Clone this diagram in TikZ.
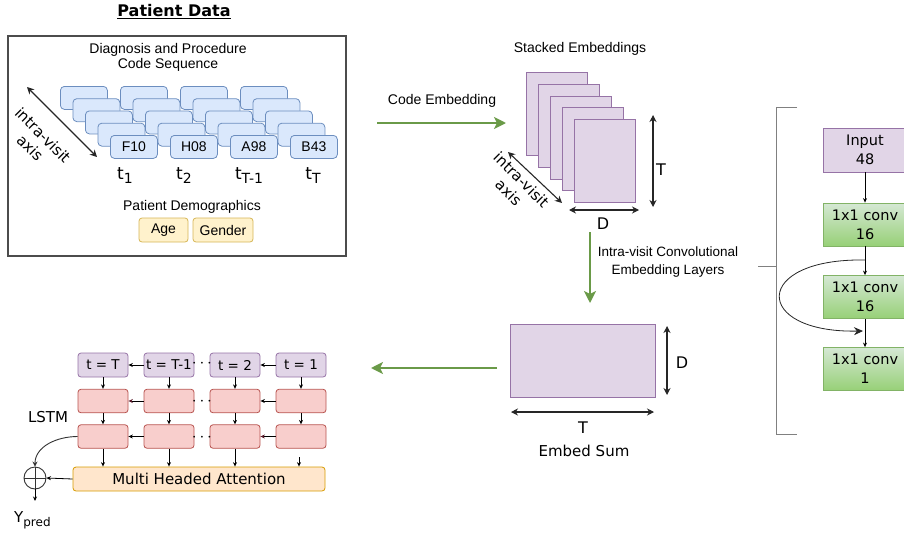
\documentclass[tikz,border=0pt]{standalone}
\usepackage{fontspec}
\setmainfont{Liberation Sans}
\newfontfamily\vfont{DejaVu Sans}
\usetikzlibrary{arrows.meta}
\definecolor{cbfill}{HTML}{DAE8FC}\definecolor{cbline}{HTML}{6C8EBF}
\definecolor{yfill}{HTML}{FFF2CC}\definecolor{yline}{HTML}{D6B656}
\definecolor{pfill}{HTML}{E1D5E7}\definecolor{pline}{HTML}{9673A6}
\definecolor{gtop}{HTML}{D5E8D4}\definecolor{gbot}{HTML}{97D077}\definecolor{gline}{HTML}{82B366}
\definecolor{rfill}{HTML}{F8CECC}\definecolor{rline}{HTML}{B85450}
\definecolor{ofill}{HTML}{FFE6CC}\definecolor{oline}{HTML}{D79B00}
\definecolor{garrow}{HTML}{6A9A48}
\definecolor{darkred}{HTML}{5A1A2A}
\newcommand{\mytsub}[1]{t\raisebox{-4pt}{\fontsize{14}{14}\selectfont #1}}
\begin{document}
\begin{tikzpicture}[x=1pt,y=-1pt,
  codebox/.style={draw=cbline,fill=cbfill,rounded corners=4pt,minimum width=47pt,minimum height=23pt,inner sep=0pt,line width=0.8pt,font=\fontsize{14}{16}\selectfont,anchor=north west},
  ybox/.style={draw=yline,fill=yfill,rounded corners=3pt,minimum height=24pt,inner sep=0pt,line width=0.8pt,font=\fontsize{14}{16}\selectfont},
  sheet/.style={draw=pline,fill=pfill,line width=1.2pt,minimum width=61pt,minimum height=83pt,inner sep=0pt,anchor=north west},
  pbox/.style={draw=pline,fill=pfill,rounded corners=3pt,minimum width=50pt,minimum height=24pt,inner sep=0pt,line width=0.8pt,font=\vfont\fontsize{13.5}{16}\selectfont},
  rbox/.style={draw=rline,fill=rfill,rounded corners=3pt,minimum width=50pt,minimum height=23.5pt,inner sep=0pt,line width=0.8pt},
  gbox/.style={draw=gline,top color=gtop,bottom color=gbot,minimum width=84pt,minimum height=43pt,inner sep=0pt,line width=0.8pt,align=center,font=\vfont\fontsize{14.5}{19}\selectfont},
  inbox/.style={draw=pline,fill=pfill,minimum width=84pt,minimum height=44pt,inner sep=0pt,line width=0.8pt,align=center,font=\vfont\fontsize{14.5}{19}\selectfont},
  lbl/.style={inner sep=0pt,font=\fontsize{14}{16}\selectfont,align=center},
  vlbl/.style={inner sep=0pt,font=\vfont\fontsize{15}{18}\selectfont,align=center},
  garr/.style={draw=garrow,line width=2.2pt,-{Stealth[length=12pt,width=12pt,inset=3pt]}},
  dimarr/.style={draw=black!85,line width=1.1pt,{Stealth[length=7pt,width=7pt]}-{Stealth[length=7pt,width=7pt]}},
  sarr/.style={draw=black,line width=0.8pt,-{Stealth[length=4.5pt,width=4pt]}},
  darr/.style={draw=black,line width=0.8pt,-{Stealth[length=4.5pt,width=4pt,color=darkred]}},
  dots/.style={inner sep=0pt,font=\fontsize{17}{17}\selectfont}
]
\useasboundingbox (0,0) rectangle (904,538);
\clip (0,0) rectangle (904,538);

% ---------------- Patient data ----------------
\node[vlbl,font=\vfont\bfseries\fontsize{16}{18}\selectfont] (ptitle) at (174,12) {\underline{Patient Data}};
\draw[draw=black!70,line width=1.3pt] (8,36) rectangle (346,256);
\node[lbl] (diag) at (168,57.5) {Diagnosis and Procedure\\[-1pt]Code Sequence};

\foreach \l in {0,...,4}{
  \foreach \c/\lab in {0/F10,1/H08,2/A98,3/B43}{
    \node[codebox] (cb-\c-\l) at ({60+60*\c+12.5*\l},{86+12.25*\l}) {\ifnum\l=4 \lab\fi};
  }
}
\coordinate (ia1) at (27,87);
\coordinate (ia2) at (97,157);
\draw[dimarr] (ia1) -- (ia2);
\node[vlbl,rotate=-45] (ialbl) at (36.5,141.5) {intra-visit\\axis};

\node[vlbl,font=\vfont\fontsize{17}{18}\selectfont] (t1) at (125,176) {\mytsub{1}};
\node[vlbl,font=\vfont\fontsize{17}{18}\selectfont] (t2) at (184,176) {\mytsub{2}};
\node[vlbl,font=\vfont\fontsize{17}{18}\selectfont] (t3) at (249,176) {\mytsub{T-1}};
\node[vlbl,font=\vfont\fontsize{17}{18}\selectfont] (t4) at (313,176) {\mytsub{T}};

\node[lbl] (demo) at (192,207) {Patient Demographics};
\node[ybox,minimum width=49pt] (age) at (163.5,230) {Age};
\node[ybox,minimum width=60pt] (gender) at (223,230) {Gender};

% ---------------- Code embedding ----------------
\coordinate (ce1) at (377,123);
\coordinate (ce2) at (506,123);
\draw[garr] (ce1) -- (ce2);
\node[lbl] (celbl) at (442,101) {Code Embedding};

\node[lbl] (stlbl) at (580,49) {Stacked Embeddings};
\foreach \l in {0,...,4}{
  \node[sheet] (sh-\l) at ({526+12*\l},{72+11.75*\l}) {};
}
\coordinate (tT1) at (653,115);
\coordinate (tT2) at (653,207);
\draw[dimarr] (tT1) -- (tT2);
\node[vlbl,font=\vfont\fontsize{16}{18}\selectfont] (tlbl) at (661,170) {T};
\coordinate (dD1) at (569,210);
\coordinate (dD2) at (639,210);
\draw[dimarr] (dD1) -- (dD2);
\node[vlbl,font=\vfont\fontsize{16}{18}\selectfont] (dlbl) at (603,224) {D};
\coordinate (sa1) at (508,152);
\coordinate (sa2) at (562,203);
\draw[dimarr] (sa1) -- (sa2);
\node[vlbl,rotate=-45] (salbl) at (515,186) {intra-visit\\axis};

% ---------------- Conv layers ----------------
\coordinate (cv1) at (590,232);
\coordinate (cv2) at (590,303);
\draw[garr] (cv1) -- (cv2);
\node[lbl,font=\fontsize{13.5}{18}\selectfont] (cvlbl) at (668,262) {Intra-visit Convolutional\\Embedding Layers};

\coordinate (br0) at (758,266);
\coordinate (br1) at (776,266);
\draw[draw=black!50,line width=1pt] (br0) -- (br1);
\draw[draw=black!50,line width=1pt] (797,107) -- (776,107) -- (776,434) -- (797,434);

\node[inbox] (inp) at (865,150) {Input\\48};
\node[gbox] (cv-a) at (865,224.5) {1x1 conv\\16};
\node[gbox] (cv-b) at (865,297) {1x1 conv\\16};
\node[gbox] (cv-c) at (865,369) {1x1 conv\\1};
\draw[sarr] (inp) -- (cv-a);
\draw[sarr] (cv-a) -- (cv-b);
\draw[sarr] (cv-b) -- (cv-c);
\coordinate (sk1) at (865,260);
\coordinate (sk2) at (863,331);
\draw[draw=black!85,line width=0.8pt,-{Stealth[length=9pt,width=8pt]}] (sk1) .. controls (752,258) and (752,333) .. (sk2);

% ---------------- Embed sum ----------------
\node[draw=pline,fill=pfill,line width=0.8pt,minimum width=145pt,minimum height=73pt,inner sep=0pt,anchor=north west] (esum) at (510,324) {};
\coordinate (eD1) at (667,326);
\coordinate (eD2) at (667,395);
\draw[dimarr] (eD1) -- (eD2);
\node[vlbl,font=\vfont\fontsize{16}{18}\selectfont] (edlbl) at (682,363) {D};
\coordinate (eT1) at (511,412);
\coordinate (eT2) at (654,412);
\draw[dimarr] (eT1) -- (eT2);
\node[vlbl,font=\vfont\fontsize{16}{18}\selectfont] (etlbl) at (583,428) {T};
\node[vlbl] (eslbl) at (584,451) {Embed Sum};

\coordinate (lf1) at (497,368);
\coordinate (lf2) at (371,368);
\draw[garr] (lf1) -- (lf2);

% ---------------- LSTM ----------------
\foreach \i/\x/\lab in {1/103/{t = T},2/169/{t = T-1},3/235/{t = 2},4/301/{t = 1}}{
  \node[pbox] (tp-\i) at (\x,365) {\lab};
  \node[rbox] (r2-\i) at (\x,401) {};
  \node[rbox] (r3-\i) at (\x,436.5) {};
}
\node[draw=oline,fill=ofill,rounded corners=3pt,minimum width=252pt,minimum height=24pt,inner sep=0pt,line width=0.8pt,font=\vfont\fontsize{15}{18}\selectfont] (att) at (199,479) {Multi Headed Attention};
\node[vlbl] (lstm) at (48,417) {LSTM};

\draw[sarr] (tp-2) -- (tp-1);
\draw[sarr] (tp-4) -- (tp-3);
\draw[darr] (r2-2) -- (r2-1);
\draw[sarr] (r2-4) -- (r2-3);
\draw[sarr] (r3-2) -- (r3-1);
\draw[darr] (r3-4) -- (r3-3);
\node[dots] (d1) at (202,364) {$\cdots$};
\node[dots] (d2) at (202,402) {$\cdots$};
\node[dots] (d3) at (202,438) {$\cdots$};

\foreach \i in {1,2,3}{
  \draw[sarr] (tp-\i) -- (r2-\i);
  \draw[sarr] (r2-\i) -- (r3-\i);
  \draw[sarr] (r3-\i.south) -- (r3-\i.south |- att.north);
}
\draw[sarr] (tp-4) -- (r2-4);
\draw[sarr] (r2-4) -- (r3-4);
\coordinate (r4s) at (299,457);
\draw[sarr] (r4s) -- (r4s |- att.north);

\node[draw=black!80,line width=0.9pt,circle,minimum size=22pt,inner sep=0pt,
  path picture={\draw[black!80,line width=0.9pt] (path picture bounding box.north) -- (path picture bounding box.south) (path picture bounding box.west) -- (path picture bounding box.east);}] (op) at (35,478) {};
\draw[sarr] (att.west) -- (op.east);
\draw[draw=black!80,line width=0.9pt,-{Stealth[length=5pt,width=5pt]}] (r3-1.west) to[out=180,in=90] (op.north);
\coordinate (yp) at (35,501);
\draw[sarr] (op.south) -- (yp);
\node[vlbl,anchor=west] (ypred) at (14,520) {Y\raisebox{-4pt}{\fontsize{12}{12}\selectfont pred}};
\end{tikzpicture}
\end{document}
